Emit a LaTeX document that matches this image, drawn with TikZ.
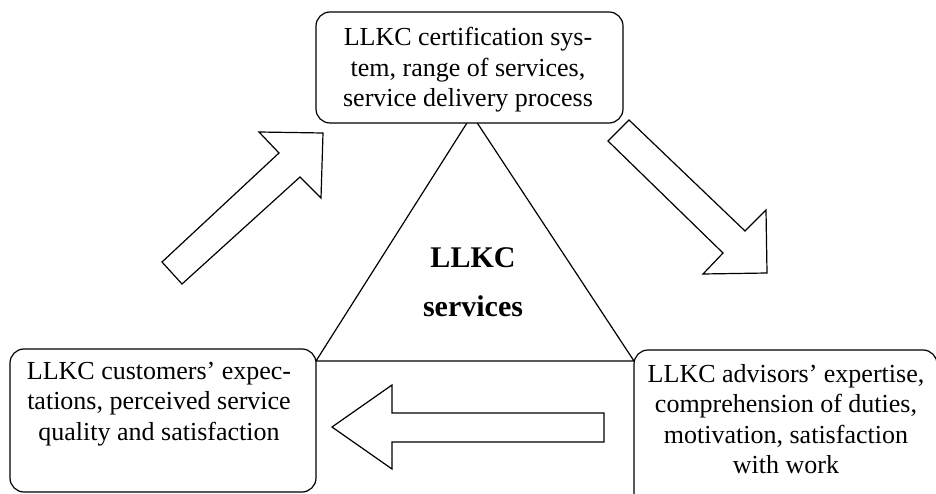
\documentclass[tikz,border=0pt]{standalone}
\usepackage{fontspec}
\setmainfont{Liberation Serif}
\begin{document}
\begin{tikzpicture}[x=1pt,y=-1pt,
  box/.style={draw, fill=white, rounded corners=14pt, line width=1.2pt, inner sep=0pt},
  txt/.style={font=\fontsize{26}{30.5}\selectfont, align=center, inner sep=0pt},
  ctxt/.style={font=\fontsize{30}{49}\selectfont\bfseries, align=center, inner sep=0pt},
  bigarrow/.style={draw, fill=white, line width=1.2pt, line join=miter},
  triline/.style={draw, line width=1.2pt}]
\useasboundingbox (0,0) rectangle (936,494);
% triangle
\coordinate (apex) at (472,115);
\coordinate (bl) at (316,361);
\coordinate (br) at (634,361);
\draw[triline] (apex) -- (bl) -- (br) -- cycle;
% boxes
\node[box, minimum width=307pt, minimum height=111pt] (topbox) at (469.5,67.5) {};
\node[txt] (toptext) at (468,70) {LLKC certification sys-\\tem, range of services,\\service delivery process};
\node[box, minimum width=306pt, minimum height=143pt] (leftbox) at (163,420.5) {};
\node[txt] (lefttext) at (159,404) {LLKC customers’ expec-\\tations, perceived service\\quality and satisfaction};
\node[box, minimum width=303pt, minimum height=158pt] (rightbox) at (785.5,429) {};
\node[txt] (righttext) at (786,419) {LLKC advisors’ expertise,\\comprehension of duties,\\motivation, satisfaction\\with work};
% centre label
\node[ctxt] (centre) at (473,282) {LLKC\\services};
% big hollow arrows
\draw[bigarrow] (162,262) -- (182,284) -- (300,177) -- (321,198) -- (323,133) -- (259,132) -- (279,153) -- cycle;
\draw[bigarrow] (629,120) -- (745,231) -- (766,210) -- (767,273) -- (703,274) -- (723,253) -- (608,141) -- cycle;
\draw[bigarrow] (604,413) -- (392,413) -- (392,385) -- (332,427) -- (392,469) -- (392,442) -- (604,442) -- cycle;
\end{tikzpicture}
\end{document}
